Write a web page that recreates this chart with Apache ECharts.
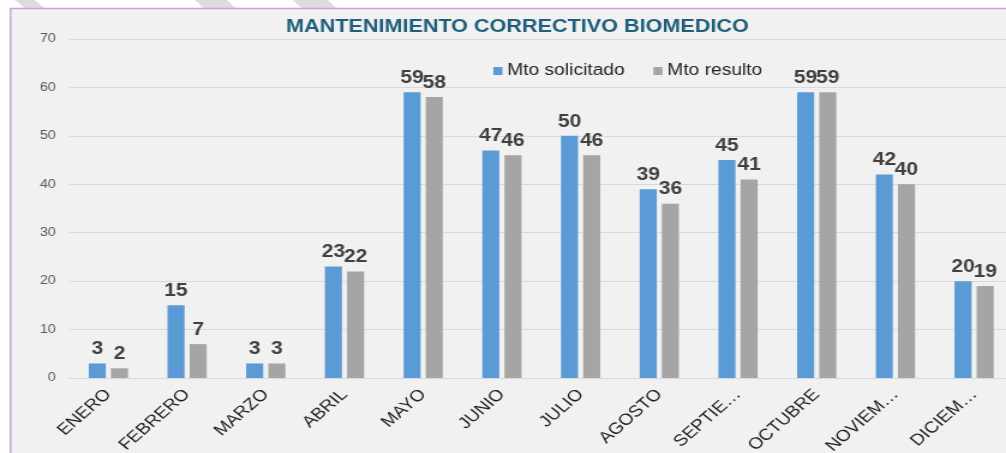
<!DOCTYPE html>
<html>
<head>
<meta charset="utf-8">
<script src="https://cdn.jsdelivr.net/npm/echarts@6/dist/echarts.min.js"></script>
<style>
  html, body { margin: 0; padding: 0; background: #ffffff; overflow: hidden; }
  #wrap { width: 1006px; height: 453px; overflow: hidden; }
  /* The chart is laid out at a narrower width and widened horizontally */
  #chart { width: 838px; height: 453px; transform: scaleX(1.2005); transform-origin: 0 0; }
</style>
</head>
<body>
<div id="wrap"><div id="chart"></div></div>
<script>
const months = ['ENERO', 'FEBRERO', 'MARZO', 'ABRIL', 'MAYO', 'JUNIO', 'JULIO', 'AGOSTO', 'SEPTIEMBRE', 'OCTUBRE', 'NOVIEMBRE', 'DICIEMBRE'];
const tickLabels = ['ENERO', 'FEBRERO', 'MARZO', 'ABRIL', 'MAYO', 'JUNIO', 'JULIO', 'AGOSTO', 'SEPTIE…', 'OCTUBRE', 'NOVIEM…', 'DICIEM…'];
const solicitado = [3, 15, 3, 23, 59, 47, 50, 39, 45, 59, 42, 20];
const resulto = [2, 7, 3, 22, 58, 46, 46, 36, 41, 59, 40, 19];
const yTicks = { min: 0, max: 70, interval: 10 };

const FONT = '"Liberation Sans", Arial, sans-serif';
const chart = echarts.init(document.getElementById('chart'), null, { renderer: 'canvas' });

// light diagonal bands in the white strip above the chart frame
function band(x0, x1, shift) {
  return {
    type: 'polygon', z: -2, silent: true,
    shape: { points: [[x0, 0], [x1, 0], [x1 + shift, 8], [x0 + shift, 8]] },
    style: { fill: '#dcdcdc' }
  };
}

const labelStyle = {
  show: true, position: 'top', distance: 5,
  color: '#404040', fontWeight: 'bold', fontSize: 17.5, fontFamily: FONT
};

chart.setOption({
  backgroundColor: '#ffffff',
  animation: false,
  graphic: [
    band(12.5, 29, 8),
    band(162.5, 189, 7),
    band(244, 273, 7),
    {
      type: 'rect', z: -1, silent: true,
      shape: { x: 8.8, y: 8.5, width: 840, height: 460 },
      style: { fill: '#f1f1f1', stroke: '#c9a0da', lineWidth: 1.4 }
    }
  ],
  title: {
    text: 'MANTENIMIENTO CORRECTIVO BIOMEDICO',
    left: 431, top: 18, textAlign: 'center', padding: 0,
    textStyle: { color: '#1f5f7b', fontSize: 18, fontWeight: 'bold', fontFamily: FONT }
  },
  legend: {
    left: 411, top: 63, padding: 0,
    itemWidth: 7.5, itemHeight: 8, itemGap: 24,
    icon: 'rect',
    textStyle: { color: '#262626', fontSize: 16, fontFamily: FONT, padding: [0, 0, 0, -1] },
    data: ['Mto solicitado', 'Mto resulto']
  },
  grid: { left: 57.5, right: -6.2, top: 39, bottom: 75, containLabel: false, outerBoundsMode: 'none' },
  xAxis: {
    type: 'category',
    data: months,
    axisLine: { show: true, lineStyle: { color: '#d9d9d9', width: 1 } },
    axisTick: { show: false },
    axisLabel: {
      interval: 0, rotate: 46, margin: 14,
      color: '#1f1f1f', fontSize: 16, fontFamily: FONT,
      formatter: (v, i) => tickLabels[i]
    }
  },
  yAxis: {
    type: 'value',
    min: yTicks.min, max: yTicks.max, interval: yTicks.interval,
    axisLine: { show: false },
    axisTick: { show: false },
    splitLine: { lineStyle: { color: '#d9d9d9', width: 1 } },
    axisLabel: { color: '#595959', fontSize: 12, fontFamily: FONT, margin: 11 }
  },
  series: [
    {
      name: 'Mto solicitado', type: 'bar', data: solicitado,
      barWidth: 14.2, barGap: '30%',
      itemStyle: { color: '#5b9bd5' },
      label: labelStyle
    },
    {
      name: 'Mto resulto', type: 'bar', data: resulto,
      barWidth: 14.2,
      itemStyle: { color: '#a5a5a5' },
      label: labelStyle
    }
  ]
});
</script>
</body>
</html>
